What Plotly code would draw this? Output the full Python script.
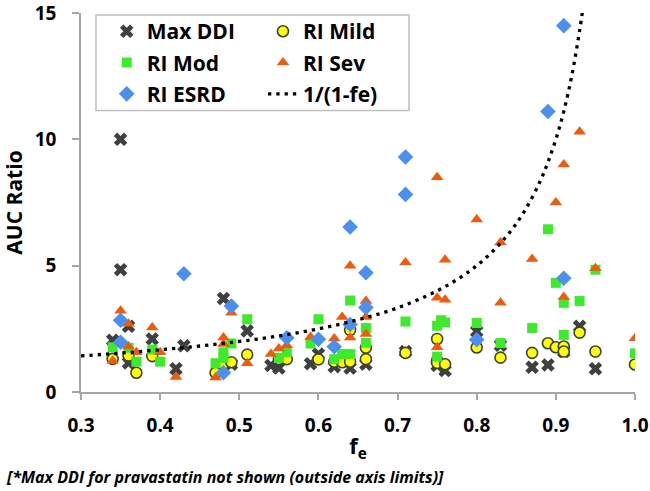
import plotly.graph_objects as go

# ---------------- data ----------------
ddi_fe = [0.34, 0.35, 0.35, 0.36, 0.36, 0.39, 0.42, 0.43, 0.48, 0.49, 0.51, 0.54, 0.55,
          0.59, 0.60, 0.62, 0.64, 0.66, 0.71, 0.75, 0.76, 0.80, 0.83, 0.87, 0.89, 0.91, 0.93, 0.95]
ddi_ratio = [2.05, 10.0, 4.84, 2.6, 1.15, 2.1, 0.92, 1.83, 3.7, 1.1, 2.42, 1.05, 0.95,
             1.12, 1.5, 1.0, 0.95, 1.1, 1.6, 1.05, 0.85, 2.4, 1.85, 0.98, 1.07, 1.6, 2.6, 0.92]

mild_fe = [0.34, 0.36, 0.37, 0.39, 0.47, 0.48, 0.49, 0.51, 0.55, 0.56, 0.60, 0.62, 0.63, 0.64,
           0.64, 0.66, 0.66, 0.71, 0.75, 0.75, 0.75, 0.76, 0.80, 0.83, 0.87, 0.89, 0.90, 0.91,
           0.91, 0.93, 0.95, 1.00]
mild_ratio = [1.31, 1.44, 0.76, 1.42, 0.76, 1.1, 1.18, 1.48, 1.3, 1.3, 1.29, 1.2, 1.18, 2.45,
              1.2, 1.75, 1.3, 1.55, 2.1, 1.25, 1.15, 1.1, 1.76, 1.36, 1.55, 1.93, 1.77, 1.8,
              1.6, 2.35, 1.6, 1.09]

mod_fe = [0.34, 0.36, 0.37, 0.39, 0.40, 0.47, 0.48, 0.48, 0.49, 0.51, 0.55, 0.56, 0.59, 0.60,
          0.62, 0.63, 0.64, 0.64, 0.66, 0.66, 0.71, 0.75, 0.755, 0.76, 0.75, 0.80, 0.83, 0.87,
          0.89, 0.90, 0.91, 0.91, 0.93, 0.95, 1.00]
mod_ratio = [1.77, 1.75, 1.2, 1.68, 1.2, 1.14, 1.57, 1.35, 1.92, 2.88, 1.35, 1.57, 1.92, 2.88,
             1.3, 1.5, 1.5, 3.62, 2.53, 1.95, 2.79, 2.62, 2.84, 2.75, 1.4, 2.73, 1.94, 2.53,
             6.44, 4.32, 3.53, 2.26, 3.6, 4.84, 1.53]

sev_fe = [0.34, 0.35, 0.36, 0.36, 0.37, 0.39, 0.40, 0.42, 0.47, 0.48, 0.48, 0.49, 0.51, 0.54,
          0.55, 0.56, 0.59, 0.62, 0.63, 0.64, 0.64, 0.66, 0.66, 0.66, 0.71, 0.75, 0.75, 0.75,
          0.76, 0.76, 0.80, 0.83, 0.83, 0.87, 0.90, 0.91, 0.91, 0.93, 0.95, 1.00]
sev_ratio = [1.24, 3.22, 2.7, 1.8, 1.57, 2.55, 1.57, 0.59, 0.57, 2.16, 1.9, 3.14, 1.14, 1.5,
             1.72, 1.85, 2.18, 2.12, 2.97, 5.0, 2.16, 3.6, 2.97, 2.3, 5.13, 8.5, 3.73, 1.77,
             5.23, 3.65, 6.83, 5.92, 3.53, 5.26, 7.5, 9.0, 3.76, 10.3, 4.9, 2.13]

esrd_fe = [0.35, 0.35, 0.43, 0.48, 0.49, 0.56, 0.60, 0.62, 0.64, 0.64, 0.66, 0.66, 0.71, 0.71,
           0.80, 0.89, 0.91, 0.91]
esrd_ratio = [2.84, 1.97, 4.68, 0.76, 3.4, 2.15, 2.09, 1.79, 6.53, 2.67, 4.72, 3.34, 9.3, 7.82,
              2.07, 11.1, 14.5, 4.5]

curve_fe = [0.30, 0.35, 0.40, 0.45, 0.50, 0.55, 0.60, 0.65, 0.70, 0.75, 0.78, 0.80, 0.82,
            0.84, 0.86, 0.88, 0.89, 0.90, 0.91, 0.92, 0.93, 0.934]
curve_ratio = [1.43, 1.54, 1.67, 1.82, 2.0, 2.22, 2.5, 2.86, 3.33, 4.0, 4.55, 5.0, 5.56,
               6.25, 7.14, 8.33, 9.09, 10.0, 11.1, 12.5, 14.3, 15.15]

x_ticks = [0.3, 0.4, 0.5, 0.6, 0.7, 0.8, 0.9, 1.0]
y_ticks = [0, 5, 10, 15]

FONT = "Open Sans"
BOLD = dict(family=FONT, color="black", weight="bold")

fig = go.Figure()

# column 1 of legend
fig.add_trace(go.Scatter(x=ddi_fe, y=ddi_ratio, mode="markers", name="Max DDI",
                         legend="legend", legendgroup="a",
                         marker=dict(symbol="x", size=12, color="#404040",
                                     line=dict(width=0))))
# column 2
fig.add_trace(go.Scatter(x=mild_fe, y=mild_ratio, mode="markers", name="RI Mild",
                         legend="legend2", legendgroup="b",
                         marker=dict(symbol="circle", size=11, color="#FFFF00",
                                     line=dict(width=1.6, color="#404040"))))
fig.add_trace(go.Scatter(x=mod_fe, y=mod_ratio, mode="markers", name="RI Mod",
                         legend="legend", legendgroup="c",
                         marker=dict(symbol="square", size=10, color="#3EEB2C",
                                     line=dict(width=0))))
fig.add_trace(go.Scatter(x=sev_fe, y=sev_ratio, mode="markers", name="RI Sev",
                         legend="legend2", legendgroup="d",
                         marker=dict(symbol="triangle-up", size=11, color="#F05A0C",
                                     line=dict(width=0))))
fig.add_trace(go.Scatter(x=esrd_fe, y=esrd_ratio, mode="markers", name="RI ESRD",
                         legend="legend", legendgroup="e",
                         marker=dict(symbol="diamond", size=12, color="#4C8FEE",
                                     line=dict(width=0))))
fig.add_trace(go.Scatter(x=curve_fe, y=curve_ratio, mode="lines", name="1/(1-fe)",
                         legend="legend2", legendgroup="f",
                         line=dict(color="black", width=3.3, dash="3.3px,5px",
                                   shape="spline")))

legend_common = dict(
    font=dict(size=21, **BOLD),
    bgcolor="rgba(0,0,0,0)", borderwidth=0, orientation="v",
    tracegroupgap=1, xanchor="left", yanchor="top",
    itemsizing="trace",
)

fig.update_layout(
    width=650, height=491,
    margin=dict(l=81, r=15, t=11, b=99),
    paper_bgcolor="white", plot_bgcolor="white",
    font=dict(family=FONT, color="black"),
    showlegend=True,
    legend=dict(x=0.0464, y=1.005, **legend_common),
    legend2=dict(x=0.3285, y=1.005, **legend_common),
    xaxis=dict(range=[0.3, 1.0], tickvals=x_ticks, tickformat=".1f",
               showgrid=False, zeroline=False, showline=True, automargin=False,
               linecolor="#A6A6A6", linewidth=1.5,
               ticks="outside", ticklen=6, tickcolor="#A6A6A6", tickwidth=1.5,
               ticklabelstandoff=9, ticklabeloverflow="allow",
               tickfont=dict(size=19, **BOLD),
               title=dict(text="f<sub>e</sub>", standoff=2,
                          font=dict(size=22, **BOLD))),
    yaxis=dict(range=[0, 15], tickvals=y_ticks,
               showgrid=False, zeroline=False, showline=True, automargin=False,
               linecolor="#A6A6A6", linewidth=1.5,
               ticks="outside", ticklen=7, tickcolor="#A6A6A6", tickwidth=1.5,
               ticklabelstandoff=12, ticklabeloverflow="allow",
               tickfont=dict(size=19, **BOLD),
               title=dict(text="AUC Ratio", standoff=6,
                          font=dict(size=21, **BOLD))),
    shapes=[dict(type="rect", xref="paper", yref="paper",
                 x0=0.027, x1=0.592, y0=0.7428, y1=0.9948,
                 line=dict(color="#BFBFBF", width=1.5), fillcolor="white",
                 layer="below")],
    annotations=[dict(text="<b><i>[*Max DDI for pravastatin not shown (outside axis limits)]</i></b>",
                      xref="paper", yref="paper", x=-0.139, y=-0.224,
                      xanchor="left", yanchor="middle", showarrow=False,
                      font=dict(family=FONT, size=16, color="black"))],
)

fig.write_html("out.html", config={"displayModeBar": False},
               post_script="document.body.style.margin='0px';")
